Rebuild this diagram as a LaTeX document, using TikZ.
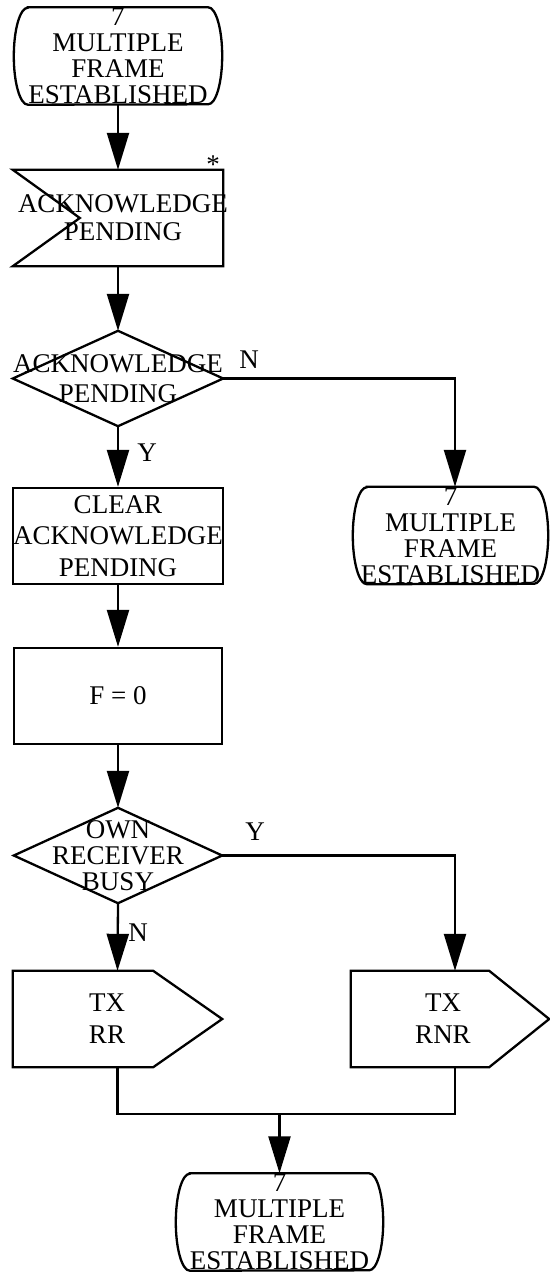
\documentclass[tikz,border=0pt]{standalone}
\usepackage{fontspec}
\setmainfont{Liberation Serif}
\usetikzlibrary{arrows.meta}

\tikzset{
  flow/.style={line width=2.3pt, -{Triangle[length=37pt,width=22pt]}},
  link/.style={line width=2.3pt},
  outline/.style={line width=2.3pt, line join=miter},
  body/.style={inner sep=0pt, align=center, minimum height=96pt,
               font=\fontsize{27}{26}\selectfont},
  tag/.style={inner sep=0pt, font=\fontsize{27}{26}\selectfont},
}

%% outlines drawn round the (invisible) node boxes
\newcommand{\stateshape}[1]{%
  \draw[outline] ([xshift=14pt]#1.north west) -- ([xshift=-14pt]#1.north east)
    arc[start angle=90, end angle=-90, x radius=14pt, y radius=48.5pt]
    -- ([xshift=14pt]#1.south west)
    arc[start angle=270, end angle=90, x radius=14pt, y radius=48.5pt] -- cycle;}
\newcommand{\decisionshape}[1]{%
  \draw[outline] (#1.north) -- (#1.east) -- (#1.south) -- (#1.west) -- cycle;}
\newcommand{\sendshape}[2]{%
  \draw[outline] (#1.north west) -- ([xshift=-#2]#1.north east) -- (#1.east)
    -- ([xshift=-#2]#1.south east) -- (#1.south west) -- cycle;}
\newcommand{\receiveshape}[2]{%
  \draw[outline] (#1.north west) -- (#1.north east) -- (#1.south east)
    -- (#1.south west) -- ([xshift=#2]#1.west) -- cycle;}

\begin{document}
\begin{tikzpicture}[x=1pt, y=-1pt]
    \useasboundingbox (0,0) rectangle (549,1272);

    %% left column
    \node[body, minimum width=208pt, minimum height=97pt] (start) at (118,56)
        {7\\MULTIPLE\\FRAME\\ESTABLISHED};
    \stateshape{start}

    \node[body, inner xsep=5pt, text width=200pt, font=\fontsize{27}{28}\selectfont] (ackin) at (118,218)
        {ACKNOWLEDGE\\\hspace*{10pt}PENDING};
    \receiveshape{ackin}{67pt}
    \node[tag] (star) at (213,165) {*};

    \node[body, minimum width=208pt, minimum height=95pt, font=\fontsize{27}{30}\selectfont] (ackq) at (118,378.5)
        {ACKNOWLEDGE\\PENDING};
    \decisionshape{ackq}

    \node[body, draw, line width=2.3pt, minimum width=208pt, font=\fontsize{27}{31.5}\selectfont] (clear) at (118,536)
        {CLEAR\\ACKNOWLEDGE\\PENDING};

    \node[body, draw, line width=2.3pt, minimum width=208pt] (fzero) at (118,696) {F = 0};

    \node[body, minimum width=208pt, minimum height=95pt] (busy) at (118,855.5)
        {OWN\\RECEIVER\\BUSY};
    \decisionshape{busy}

    %% transmit boxes
    \node[body, minimum width=209pt, font=\fontsize{27}{32}\selectfont] (txrr) at (117.5,1019)
        {TX\hspace*{21pt}\\RR\hspace*{21pt}};
    \sendshape{txrr}{69pt}

    \node[body, minimum width=198pt, font=\fontsize{27}{32}\selectfont] (txrnr) at (450,1019)
        {TX\hspace*{14pt}\\RNR\hspace*{14pt}};
    \sendshape{txrnr}{60pt}

    %% right branch and final state
    \node[body, minimum width=195pt, minimum height=97pt] (stayn) at (450.5,535.5)
        {7\\MULTIPLE\\FRAME\\ESTABLISHED};
    \stateshape{stayn}

    \node[body, minimum width=207pt, minimum height=97pt] (stay) at (279.5,1222)
        {7\\MULTIPLE\\FRAME\\ESTABLISHED};
    \stateshape{stay}

    \coordinate (rcol) at (455,0);
    \coordinate (join) at (279.5,1114);

    %% connectors
    \draw[flow] (start.south) -- (ackin.north);
    \draw[flow] (ackin.south) -- (ackq.north);
    \draw[flow] (ackq.east) -| (rcol |- stayn.north);
    \draw[flow] (ackq.south) -- (clear.north);
    \draw[flow] (clear.south) -- (fzero.north);
    \draw[flow] (fzero.south) -- (busy.north);
    \draw[flow] (busy.east) -| (rcol |- txrnr.north);
    \draw[flow] (busy.south) -- (txrr.north);
    \draw[link] (txrr.south) |- (rcol |- join) -- (rcol |- txrnr.south);
    \draw[flow] (join) -- (stay.north);

    %% branch letters
    \node[tag] (ackq-n) at (249,360) {N};
    \node[tag] (ackq-y) at (147,453) {Y};
    \node[tag] (busy-y) at (255,832) {Y};
    \node[tag] (busy-n) at (138,933) {N};
\end{tikzpicture}
\end{document}
